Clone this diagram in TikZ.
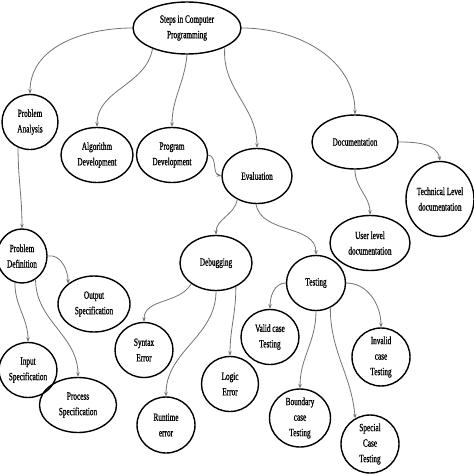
\documentclass[tikz,border=0pt]{standalone}
\usepackage{fontspec}
\setmainfont{Liberation Serif}[FakeStretch=0.66,FakeBold=1]
\usetikzlibrary{arrows.meta,shapes.geometric}
\begin{document}
\begin{tikzpicture}[x=1pt,y=1pt,
  bub/.style={ellipse,draw=black,line width=1.4pt,inner sep=0pt,align=center,
    font=\fontsize{11}{15.5}\selectfont},
  con/.style={draw=black!55,line width=0.8pt,-{Stealth[length=4.5pt,width=3.5pt]}}]
\useasboundingbox (0,0) rectangle (474,-474);
% nodes
\node[bub,minimum width=108,minimum height=52] (steps) at (187,-28) {Steps in Computer\\Programming};
\node[bub,minimum width=56,minimum height=55] (pa) at (30,-122) {Problem\\Analysis};
\node[bub,minimum width=72,minimum height=55] (alg) at (97,-155) {Algorithm\\Development};
\node[bub,minimum width=71,minimum height=55] (prog) at (172,-155) {Program\\Development};
\node[bub,minimum width=70,minimum height=55] (eval) at (257,-176) {Evaluation};
\node[bub,minimum width=86,minimum height=54] (doc) at (355,-142) {Documentation};
\node[bub,minimum width=68,minimum height=75] (tech) at (440,-199) {Technical Level\\documentation};
\node[bub,minimum width=80,minimum height=55] (user) at (370,-243) {User level\\documentation};
\node[bub,minimum width=50,minimum height=54] (pd) at (22,-256) {Problem\\Definition};
\node[bub,minimum width=72,minimum height=56] (outs) at (94,-304) {Output\\Specification};
\node[bub,minimum width=72,minimum height=55] (dbg) at (216,-263) {Debugging};
\node[bub,minimum width=59,minimum height=55] (test) at (316,-283) {Testing};
\node[bub,minimum width=58,minimum height=55] (ins) at (28,-370) {Input\\Specification};
\node[bub,minimum width=77,minimum height=55] (proc) at (78,-405) {Process\\Specification};
\node[bub,minimum width=58,minimum height=55] (syn) at (144,-350) {Syntax\\Error};
\node[bub,minimum width=58,minimum height=56] (run) at (166,-425) {Runtime\\error};
\node[bub,minimum width=57,minimum height=55] (log) at (230,-384) {Logic\\Error};
\node[bub,minimum width=58,minimum height=55] (val) at (270,-337) {Valid case\\Testing};
\node[bub,minimum width=58,minimum height=55] (inv) at (381,-357) {Invalid\\case\\Testing};
\node[bub,minimum width=61,minimum height=56] (bnd) at (300,-418) {Boundary\\case\\Testing};
\node[bub,minimum width=58,minimum height=55] (spc) at (370,-444) {Special\\Case\\Testing};
% connectors
\draw[con] (steps.west) to[out=180,in=90] (pa.north);
\draw[con] (steps.211) to[out=-100,in=90] (alg.north);
\draw[con] (steps.south) to[out=-95,in=90] (prog.north);
\draw[con] (steps.333) to[out=-95,in=90] (eval.north);
\draw[con] (steps.east) to[out=0,in=90] (doc.north);
\draw[con] (prog.east) to[out=-10,in=165] (eval.west);
\draw[con] (doc.east) to[out=0,in=100] (tech.north);
\draw[con] (doc.south) to[out=-90,in=90] (user.north);
\draw[con] (pa.245) to[out=-90,in=90] (pd.north);
\draw[con] (pd.east) to[out=10,in=90] (outs.north west);
\draw[con] (pd.255) to[out=-90,in=90] (ins.north);
\draw[con] (pd.300) to[out=-90,in=90] (proc.north);
\draw[con] (eval.230) to[out=-100,in=90] (dbg.north);
\draw[con] (eval.268) to[out=-80,in=90] (test.north);
\draw[con] (dbg.220) to[out=-120,in=90] (syn.north);
\draw[con] (dbg.270) to[out=-90,in=90] (run.north);
\draw[con] (dbg.310) to[out=-90,in=90] (log.north);
\draw[con] (test.west) to[out=180,in=90] (val.north);
\draw[con] (test.south) to[out=-90,in=90] (bnd.north);
\draw[con] (test.300) to[out=-90,in=95] (spc.120);
\draw[con] (test.east) to[out=0,in=90] (inv.north);
\end{tikzpicture}
\end{document}
